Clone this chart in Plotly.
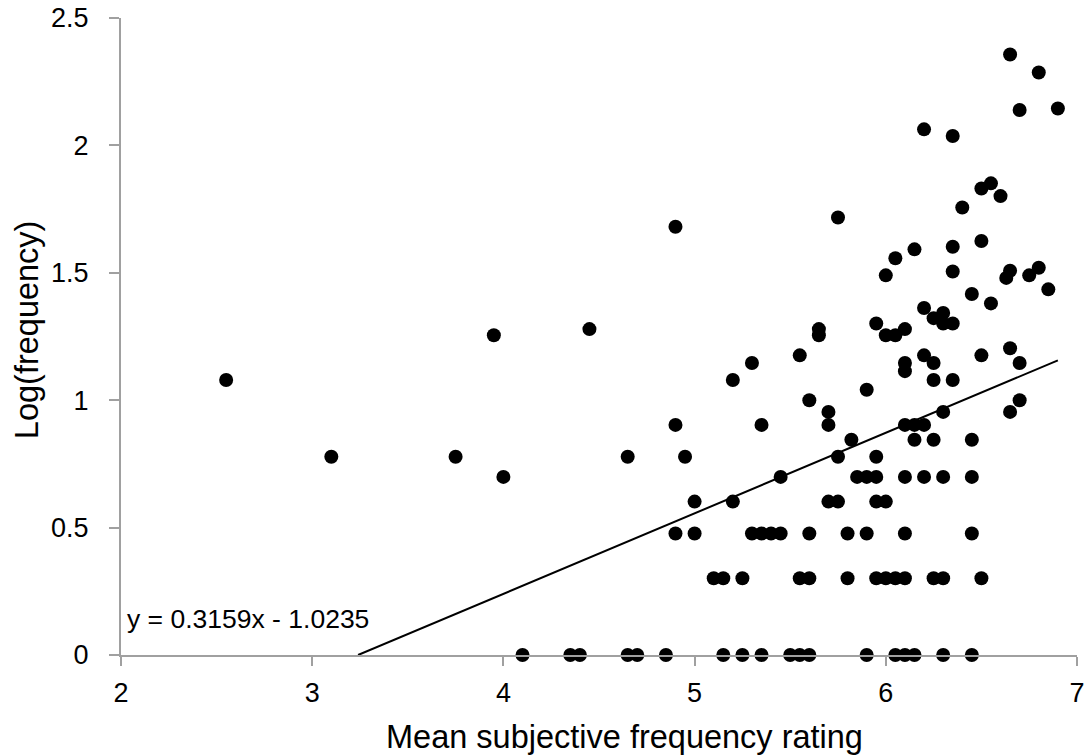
import plotly.graph_objects as go

# ---- data ----
row_0 = [4.10, 4.35, 4.40, 4.65, 4.70, 4.85, 5.15, 5.25, 5.35, 5.50, 5.55, 5.60,
         5.90, 6.05, 6.10, 6.15, 6.30, 6.45]
row_0301 = [5.10, 5.15, 5.25, 5.55, 5.60, 5.80, 5.95, 6.00, 6.05, 6.10, 6.25, 6.30, 6.50]
row_0477 = [4.90, 5.00, 5.30, 5.35, 5.40, 5.45, 5.60, 5.80, 5.90, 6.10, 6.45]
row_0602 = [5.00, 5.20, 5.70, 5.75, 5.95, 6.00]
row_0699 = [4.00, 5.45, 5.85, 5.90, 5.95, 6.10, 6.20, 6.30, 6.45]
row_0778 = [3.10, 3.75, 4.65, 4.95, 5.75, 5.95]
row_0845 = [5.82, 6.15, 6.25, 6.45]
row_0903 = [4.90, 5.35, 5.70, 6.10, 6.15, 6.20]
row_0954 = [5.70, 6.30, 6.65]
row_1000 = [5.60, 6.70]

upper_x = [5.90, 2.55, 5.20, 6.25, 6.35, 6.10, 5.30, 6.10, 6.25, 6.70,
           5.55, 6.20, 6.50, 6.65, 3.95, 5.65, 6.00, 6.05, 4.45, 5.65, 6.10,
           5.95, 6.30, 6.35, 6.25, 6.30, 6.20, 6.55, 6.45, 6.85, 6.63, 6.75,
           6.00, 6.35, 6.65, 6.80, 6.05, 6.15, 6.35, 6.50, 4.90, 5.75, 6.40,
           6.60, 6.50, 6.55, 6.35, 6.20, 6.70, 6.90, 6.80, 6.65]
upper_y = [1.041, 1.079, 1.079, 1.079, 1.079, 1.114, 1.146, 1.146, 1.146, 1.146,
           1.176, 1.176, 1.176, 1.204, 1.255, 1.255, 1.255, 1.255, 1.279, 1.279, 1.279,
           1.301, 1.301, 1.301, 1.322, 1.342, 1.362, 1.380, 1.417, 1.435, 1.480, 1.490,
           1.490, 1.505, 1.508, 1.520, 1.557, 1.592, 1.602, 1.625, 1.681, 1.717, 1.756,
           1.801, 1.831, 1.851, 2.037, 2.063, 2.139, 2.145, 2.286, 2.357]

rows = [(row_0, 0.0), (row_0301, 0.301), (row_0477, 0.477), (row_0602, 0.602),
        (row_0699, 0.699), (row_0778, 0.778), (row_0845, 0.845), (row_0903, 0.903),
        (row_0954, 0.954), (row_1000, 1.0)]

slope = 0.3159
intercept = -1.0235
equation_text = "y = 0.3159x - 1.0235"
x_title = "Mean subjective frequency rating"
y_title = "Log(frequency)"
x_ticks = [2, 3, 4, 5, 6, 7]
y_ticks = [0, 0.5, 1, 1.5, 2, 2.5]

xs, ys = [], []
for vals, level in rows:
    xs += vals
    ys += [level] * len(vals)
xs += upper_x
ys += upper_y

FONT = "Liberation Sans, Arial, sans-serif"

fig = go.Figure()
fig.add_trace(go.Scatter(
    x=xs, y=ys, mode="markers",
    marker=dict(size=14, color="black", line=dict(width=0)),
    cliponaxis=False, showlegend=False, hoverinfo="x+y"))

x_start = -intercept / slope
x_end = max(xs)
fig.add_trace(go.Scatter(
    x=[x_start, x_end], y=[slope * x_start + intercept, slope * x_end + intercept],
    mode="lines", line=dict(color="black", width=2), showlegend=False, hoverinfo="skip"))

axis_common = dict(showline=True, linecolor="#a0a0a0", linewidth=2, ticks="outside",
                   tickcolor="#a0a0a0", tickwidth=2, showgrid=False, zeroline=False,
                   automargin=False,
                   tickfont=dict(family=FONT, size=27, color="black"))

fig.update_xaxes(range=[2, 7], tickvals=x_ticks, ticklen=9, ticklabelstandoff=4, **axis_common)
fig.update_yaxes(range=[0, 2.5], tickvals=y_ticks, ticklen=10, ticklabelstandoff=15, **axis_common)

fig.add_annotation(x=2.02, y=0.141, xref="x", yref="y", text=equation_text, showarrow=False,
                   xanchor="left", yanchor="middle", font=dict(family=FONT, size=26.5, color="black"))
fig.add_annotation(x=0.527, y=-0.1287, xref="paper", yref="paper", text=x_title, showarrow=False,
                   xanchor="center", yanchor="middle", font=dict(family=FONT, size=32.5, color="black"))
fig.add_annotation(x=-0.0983, y=0.51, xref="paper", yref="paper", text=y_title, showarrow=False,
                   textangle=-90, xanchor="center", yanchor="middle",
                   font=dict(family=FONT, size=32.5, color="black"))

fig.update_layout(width=1085, height=755, margin=dict(l=121, r=8, t=18, b=100),
                  plot_bgcolor="white", paper_bgcolor="white",
                  font=dict(family=FONT, color="black"))

fig.write_html("out.html", config={"displayModeBar": False},
               post_script="document.body.style.margin='0';document.body.style.overflow='hidden';")
